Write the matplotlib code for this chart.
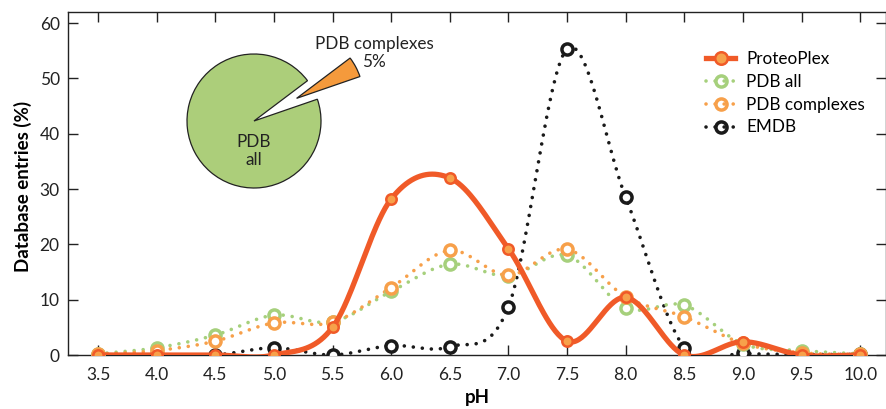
import numpy as np
import matplotlib
matplotlib.use("Agg")
import matplotlib.pyplot as plt

plt.rcParams['font.family'] = ['Lato', 'DejaVu Sans']

ph = [3.5, 4.0, 4.5, 5.0, 5.5, 6.0, 6.5, 7.0, 7.5, 8.0, 8.5, 9.0, 9.5, 10.0]
proteoplex = [0, 0, 0, 0, 5.0, 28.2, 32.0, 19.2, 2.5, 10.4, 0, 2.4, 0, 0]
pdb_all = [0.2, 1.3, 3.6, 7.2, 6.0, 11.5, 16.4, 14.3, 18.0, 8.5, 9.0, 2.0, 0.8, 0.2]
pdb_complexes = [0.1, 0.8, 2.5, 5.8, 5.9, 12.2, 18.9, 14.4, 19.1, 10.5, 6.9, 2.1, 0.4, 0.1]
emdb = [0, 0, 0, 1.3, 0, 1.7, 1.5, 8.7, 55.3, 28.5, 1.3, 0.3, 0.1, 0.1]

pie_labels = ['PDB complexes\n5%', 'PDB\nall']
pie_values = [5, 95]

xticks = ph
yticks = [0, 10, 20, 30, 40, 50, 60]


def smooth_curve(x, y, n=40):
    """Catmull-Rom spline through the data points."""
    x = np.asarray(x, float)
    y = np.asarray(y, float)
    m = len(x)
    t = np.zeros(m)
    t[1:-1] = (y[2:] - y[:-2]) / (x[2:] - x[:-2])
    t[0] = (y[1] - y[0]) / (x[1] - x[0])
    t[-1] = (y[-1] - y[-2]) / (x[-1] - x[-2])
    xs_all, ys_all = [], []
    for i in range(m - 1):
        h = x[i + 1] - x[i]
        s = np.linspace(0, 1, n, endpoint=(i == m - 2))
        h00 = 2 * s**3 - 3 * s**2 + 1
        h10 = s**3 - 2 * s**2 + s
        h01 = -2 * s**3 + 3 * s**2
        h11 = s**3 - s**2
        xs_all.append(x[i] + s * h)
        ys_all.append(h00 * y[i] + h10 * h * t[i] + h01 * y[i + 1] + h11 * h * t[i + 1])
    return np.concatenate(xs_all), np.concatenate(ys_all)


W, H = 887, 409
fig = plt.figure(figsize=(W / 100, H / 100), dpi=100)
ax = fig.add_axes([68 / W, (H - 355) / H, 818 / W, 343 / H])

red = '#f05a28'
orange_fill = '#f7a14a'
green = '#a6d07c'
orange = '#f7a04a'
black = '#1a1a1a'

dot = (0, (0.01, 2.5))

series = [
    ('EMDB', emdb, black),
    ('PDB all', pdb_all, green),
    ('PDB complexes', pdb_complexes, orange),
]
handles = {}
for name, vals, col in series:
    xs, ys = smooth_curve(ph, vals)
    ax.plot(xs, ys, color=col, lw=2.6, linestyle=dot, dash_capstyle='round', zorder=2)
    ax.plot(ph, vals, linestyle='none', marker='o', ms=8, mfc='white', mec=col, mew=2.5, zorder=3)
    h, = ax.plot([], [], color=col, lw=2.6, linestyle=dot, dash_capstyle='round',
                 marker='o', ms=8, mfc='none', mec=col, mew=2.5)
    handles[name] = h

xs, ys = smooth_curve(ph, proteoplex)
ax.plot(xs, ys, color=red, lw=3.8, solid_capstyle='round', zorder=4)
ax.plot(ph, proteoplex, linestyle='none', marker='o', ms=7.5, mfc=orange_fill, mec=red, mew=1.8, zorder=5)
hp, = ax.plot([], [], color=red, lw=3.8, marker='o', ms=9, mfc=orange_fill, mec=red, mew=1.8)
handles['ProteoPlex'] = hp

ax.set_xlim(3.244, 10.22)
ax.set_ylim(0, 62)
ax.set_xticks(xticks)
ax.set_xticklabels([f'{v:.1f}' for v in xticks])
ax.set_yticks(yticks)
ax.tick_params(direction='in', length=7, width=1, labelsize=12.5, colors='#222222',
               top=True, right=True, pad=6)
ax.tick_params(axis='x', pad=9)
for s in ax.spines.values():
    s.set_linewidth(1)
    s.set_color('#222222')

ax.set_xlabel('pH', fontsize=13.5, fontweight='bold', labelpad=4)
ax.set_ylabel('Database entries (%)', fontsize=13.5, fontweight='bold')
ax.yaxis.set_label_coords((32 - 68) / 818, 0.49)

order = ['ProteoPlex', 'PDB all', 'PDB complexes', 'EMDB']
ax.legend([handles[k] for k in order], order, loc='upper left',
          bbox_to_anchor=((706 - 68) / 818, (355 - 51) / 343), frameon=False,
          fontsize=12.3, handlelength=1.7, handletextpad=0.65, labelspacing=0.4,
          borderaxespad=0, borderpad=0)

# Pie inset
cx, cy, r = 254, H - 121, 67
half = 160
axp = fig.add_axes([(cx - half) / W, (cy - half) / H, 2 * half / W, 2 * half / H])
axp.pie(pie_values, colors=['#f59a3c', '#acce7a'], startangle=19, counterclock=True,
        explode=[0.72, 0], radius=1,
        wedgeprops=dict(edgecolor='#222222', linewidth=0.9))
axp.set_xlim(-half / r, half / r)
axp.set_ylim(-half / r, half / r)
axp.set_aspect('equal')
axp.axis('off')
axp.text(0, -(151 - 121) / r, pie_labels[1], ha='center', va='center', fontsize=12.3,
         color='#222222', linespacing=1.15)
axp.text((374 - cx) / r, ((H - 53) - cy) / r, pie_labels[0], ha='center', va='center',
         fontsize=12.3, color='#222222', linespacing=1.15)

fig.savefig('out.png', dpi=100)
